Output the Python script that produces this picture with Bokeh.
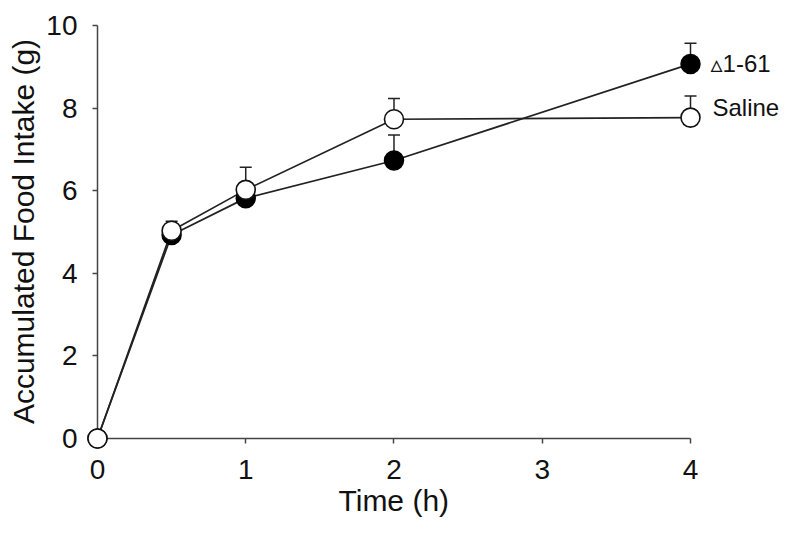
from bokeh.plotting import figure
from bokeh.models import (Range1d, FixedTicker, Label, Whisker, TeeHead,
                          ColumnDataSource, LinearAxis, Title)
from bokeh.embed import file_html
from bokeh.resources import INLINE

# ---- data ----
time_h = [0, 0.5, 1, 2, 4]
delta_mean = [0.0, 4.93, 5.82, 6.73, 9.07]
delta_err = [0.0, 0.15, 0.2, 0.62, 0.5]
saline_mean = [0.0, 5.03, 6.02, 7.73, 7.77]
saline_err = [0.0, 0.23, 0.55, 0.5, 0.52]
x_ticks = [0, 1, 2, 3, 4]
y_ticks = [0, 2, 4, 6, 8, 10]
label_delta = "\u25b51-61"
label_saline = "Saline"
x_title = "Time (h)"
y_title = "Accumulated Food Intake (g)"

FONT = "Liberation Sans"
LINE = "#222222"
AXC = "#444444"
TXT = "#111111"

p = figure(frame_width=702, frame_height=450,
           min_border_left=82, min_border_right=0,
           min_border_top=6, min_border_bottom=74,
           x_range=Range1d(-0.101, 4.634), y_range=Range1d(-0.436, 10.46),
           output_backend="svg", toolbar_location=None, tools="")
p.background_fill_color = "white"
p.border_fill_color = "white"
p.outline_line_color = None
p.xgrid.visible = False
p.ygrid.visible = False

# label-only axes at the frame edges (tick labels)
for ax, ticks in ((p.xaxis[0], x_ticks), (p.yaxis[0], y_ticks)):
    ax.ticker = FixedTicker(ticks=ticks)
    ax.axis_line_color = None
    ax.major_tick_line_color = None
    ax.minor_tick_line_color = None
    ax.major_tick_out = 0
    ax.major_tick_in = 0
    ax.major_label_text_font = FONT
    ax.major_label_text_font_size = "28px"
    ax.major_label_text_color = TXT
    ax.axis_label_text_font = FONT
    ax.axis_label_text_font_size = "30px"
    ax.axis_label_text_font_style = "normal"
    ax.axis_label_text_color = TXT
p.yaxis[0].axis_label = y_title
p.xaxis[0].major_label_standoff = 3
p.yaxis[0].major_label_standoff = 5
p.yaxis[0].axis_label_standoff = 3

# line + tick axes placed at data zero (ticks drawn as minor ticks, no labels)
for ticks, bounds, side in ((x_ticks, (0, 4), "below"), (y_ticks, (0, 10), "left")):
    ax = LinearAxis(ticker=FixedTicker(ticks=[], minor_ticks=ticks),
                    fixed_location=0, bounds=bounds, level="underlay",
                    axis_line_color=AXC, axis_line_width=1.5,
                    major_tick_line_color=None,
                    minor_tick_line_color=AXC, minor_tick_line_width=1.5,
                    minor_tick_out=5, minor_tick_in=0)
    p.add_layout(ax, side)

# x axis title, centred under x = 2
p.add_layout(Title(text=x_title, align="left", offset=256, standoff=0,
                   text_font=FONT, text_font_size="30px",
                   text_font_style="normal", text_color=TXT), "below")

src_d = ColumnDataSource(dict(x=time_h, y=delta_mean,
                              up=[m + e for m, e in zip(delta_mean, delta_err)]))
src_s = ColumnDataSource(dict(x=time_h, y=saline_mean,
                              up=[m + e for m, e in zip(saline_mean, saline_err)]))

p.line("x", "y", source=src_d, line_color=LINE, line_width=1.7)
p.line("x", "y", source=src_s, line_color=LINE, line_width=1.7)

for src in (src_d, src_s):
    w = Whisker(base="x", lower="y", upper="up", source=src, dimension="height",
                line_color=LINE, line_width=1.5, level="underlay",
                upper_head=TeeHead(size=12, line_color=LINE, line_width=1.5),
                lower_head=None)
    p.add_layout(w)

p.scatter("x", "y", source=src_d, marker="circle", size=19,
          fill_color="black", line_color="black", line_width=1.5)
p.scatter("x", "y", source=src_s, marker="circle", size=19,
          fill_color="white", line_color="#111111", line_width=1.6)

p.add_layout(Label(x=time_h[-1], y=delta_mean[-1], x_offset=20, y_offset=0,
                   text=label_delta, text_font="Liberation Sans, DejaVu Sans",
                   text_font_size="24px",
                   text_color=TXT, text_baseline="alphabetic"))
p.add_layout(Label(x=time_h[-1], y=saline_mean[-1], x_offset=22, y_offset=10,
                   text=label_saline, text_font=FONT, text_font_size="24px",
                   text_color=TXT, text_baseline="alphabetic"))

open("out.html", "w").write(file_html(p, INLINE))
